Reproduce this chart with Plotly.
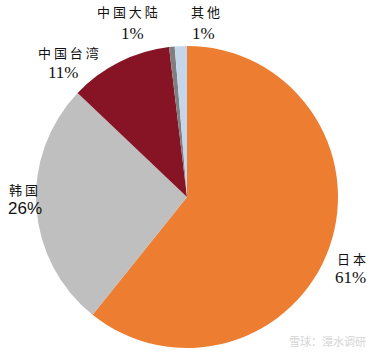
import plotly.graph_objects as go

labels = ["日本", "韩国", "中国台湾", "中国大陆", "其他"]
values = [60.75, 26.35, 11.0, 0.6, 1.3]
shown_pct = ["61%", "26%", "11%", "1%", "1%"]
colors = ["#ED7D31", "#BFBFBF", "#861424", "#7F7F7F", "#C5D6EB"]

fig = go.Figure()
fig.add_trace(go.Pie(
    labels=labels, values=values, sort=False, direction="clockwise", rotation=0,
    marker=dict(colors=colors, line=dict(width=0)),
    textinfo="none", hoverinfo="label+percent", showlegend=False,
    domain=dict(x=[36/374, 338/374], y=[1-348/356, 1-46/356]),
))

# label positions (paper px)
pos = {
    "日本": ((351, 258), (350, 277)),
    "韩国": ((23, 189), (25, 208)),
    "中国台湾": ((68, 52), (63, 72)),
    "中国大陆": ((128, 12), (132, 33)),
    "其他": ((205, 12), (204, 33)),
}
W, H = 374, 356
for lab, pct in zip(labels, shown_pct):
    (nx, ny), (px, py) = pos[lab]
    sans = lab == "韩国"
    fig.add_annotation(x=nx/W, y=1-ny/H, xref="paper", yref="paper",
                       text=" ".join(lab), showarrow=False,
                       font=dict(family="Noto Sans CJK SC", size=13, color="#111111"),
                       xanchor="center", yanchor="middle")
    fig.add_annotation(x=px/W, y=1-py/H, xref="paper", yref="paper",
                       text=pct, showarrow=False,
                       font=dict(family="Liberation Sans" if sans else "Liberation Serif",
                                 size=17, color="#111111"),
                       xanchor="center", yanchor="middle")

fig.add_annotation(x=368/W, y=1-341/H, xref="paper", yref="paper",
                   text="雪球：潭水调研", showarrow=False,
                   font=dict(family="Noto Sans CJK SC", size=11, color="#d4d4d4"),
                   xanchor="right", yanchor="middle")

fig.update_layout(width=W, height=H, margin=dict(l=0, r=0, t=0, b=0),
                  paper_bgcolor="white", plot_bgcolor="white")
fig.write_html("out.html")
